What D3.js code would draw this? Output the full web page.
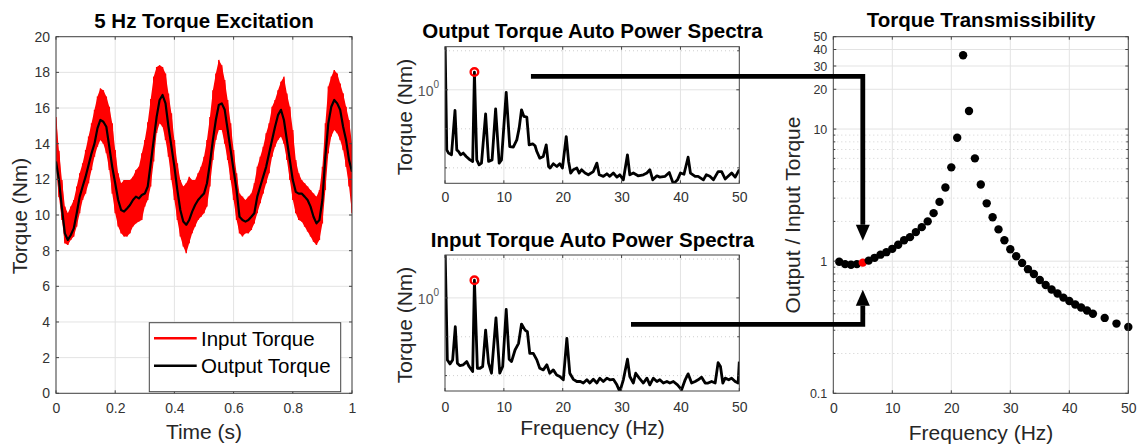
<!DOCTYPE html>
<html>
<head>
<meta charset="utf-8">
<script src="https://cdn.jsdelivr.net/npm/d3@7"></script>
<style>
  body { margin: 0; background: #fff; }
  svg { font-family: "Liberation Sans", Arial, sans-serif; }
  .tick text { fill: #333; font-size: 14px; }
  .ratio-axis .tick text { font-size: 12.5px; }
</style>
</head>
<body>
<div id="chart"></div>
<script>
// ---------- data ----------
// time trace, 0..1 s every 10 ms
var timeSec = d3.range(0, 101).map(i => i / 100);

var outputTorque = [13.0, 11.96, 10.37, 8.97, 8.6, 8.88, 9.25, 10.1, 11.03, 11.6,
  12.15, 12.8, 13.46, 14.0, 14.86, 15.33, 15.23, 14.95, 13.83, 12.7,
  11.78, 10.84, 10.28, 10.19, 10.37, 10.56, 10.84, 11.03, 10.93, 11.12,
  11.2, 11.6, 12.9, 14.2, 15.5, 16.45, 16.73, 16.26, 14.95, 13.83,
  12.71, 11.4, 10.28, 9.63, 9.45, 9.72, 10.19, 10.56, 10.84, 11.03,
  11.2, 11.78, 12.9, 14.2, 15.33, 16.17, 16.26, 15.9, 14.77, 13.64,
  12.52, 11.4, 9.9, 9.72, 9.63, 9.72, 9.9, 10.1, 11.03, 11.6,
  12.15, 12.7, 13.46, 14.2, 14.95, 15.6, 15.9, 15.33, 14.2, 13.08,
  11.96, 11.3, 11.2, 11.2, 11.03, 10.84, 10.47, 9.9, 9.53, 9.72,
  10.84, 13.27, 15.14, 16.07, 16.45, 16.26, 15.9, 14.95, 14.2, 13.08, 12.43];

// input torque is a dense high frequency signal: max / min in each 10 ms bin
var inputTorqueHigh = [15.5, 13.6, 11.96, 10.47, 10.1, 10.47, 10.84, 11.6, 12.34, 12.9,
  13.64, 14.4, 15.14, 15.9, 16.64, 17.1, 17.0, 16.64, 16.07, 15.14,
  13.64, 12.34, 11.78, 11.96, 11.96, 11.96, 12.15, 12.52, 12.7, 13.46,
  14.2, 15.2, 16.5, 17.76, 18.3, 18.4, 18.3, 17.94, 16.82, 15.7,
  14.2, 12.9, 11.96, 11.6, 11.78, 12.15, 11.96, 11.96, 12.34, 12.7,
  13.27, 14.2, 15.5, 17.0, 17.94, 18.7, 18.4, 17.57, 16.45, 15.14,
  13.64, 12.34, 11.2, 11.03, 10.84, 11.03, 11.2, 11.78, 12.7, 13.27,
  13.83, 14.58, 15.14, 16.07, 16.45, 17.0, 17.48, 17.76, 16.82, 16.07,
  14.77, 13.08, 12.34, 11.96, 11.78, 11.6, 11.4, 11.2, 11.03, 11.4,
  12.7, 15.14, 17.2, 17.76, 18.13, 17.94, 17.38, 16.82, 16.07, 15.33, 14.0];

var inputTorqueLow = [12.7, 11.0, 9.72, 8.41, 8.32, 8.6, 8.79, 9.35, 10.1, 10.84,
  11.2, 11.78, 12.52, 13.27, 13.83, 14.2, 14.0, 13.46, 12.52, 11.2,
  10.1, 9.35, 8.97, 8.79, 8.79, 8.97, 9.35, 9.53, 9.63, 9.72,
  10.47, 10.84, 11.6, 13.0, 14.6, 15.14, 14.95, 14.2, 13.27, 11.96,
  10.84, 9.72, 8.79, 8.23, 7.85, 8.41, 8.97, 9.35, 9.72, 9.9,
  10.1, 10.47, 11.6, 13.08, 14.2, 14.77, 14.77, 14.0, 13.08, 11.96,
  10.84, 9.72, 8.97, 8.79, 8.97, 8.97, 9.16, 9.53, 10.1, 10.66,
  11.2, 11.78, 12.34, 13.27, 13.83, 14.2, 14.4, 14.0, 13.08, 11.96,
  10.84, 10.1, 9.72, 9.63, 9.35, 9.07, 8.79, 8.5, 8.32, 8.6,
  9.53, 11.4, 13.46, 14.4, 14.77, 14.58, 14.2, 13.64, 12.7, 11.6, 10.1];

// output torque auto power spectrum
var outSpecFreq = [0, 0.3, 0.6, 1.1, 1.7, 2.0, 2.3, 2.65, 3.1, 3.6, 4.25, 4.7, 5.0, 5.4, 5.8, 6.2,
  6.9, 7.4, 8.0, 8.6, 9.2, 9.6, 10.4, 11.0, 11.6, 12.2, 12.6, 13.0, 13.4, 13.9, 14.3, 14.9,
  15.3, 15.6, 16.1, 16.7, 17.2, 17.6, 17.85, 18.4, 19.0, 19.5, 19.95, 20.6, 21.0, 21.35,
  21.8, 22.4, 22.8, 23.2, 23.8, 24.35, 25.2, 25.8, 26.2, 26.9, 27.5, 28.0, 28.6, 29.2,
  29.7, 30.3, 31.0, 31.4, 32.0, 32.8, 33.7, 34.3, 34.8, 35.3, 36.0, 36.5, 37.4, 38.1,
  38.8, 39.5, 40.0, 40.6, 41.3, 41.7, 42.5, 43.0, 43.9, 44.4, 45.0, 45.6, 46.4, 47.0,
  47.6, 48.1, 48.7, 49.3, 50.0];
var outSpecAmp = [2.6, 0.344, 0.325, 0.315, 0.693, 0.344, 0.334, 0.315, 0.325, 0.306, 0.288, 0.28, 1.37, 0.288, 0.264, 0.272,
  0.653, 0.28, 0.288, 0.713, 0.272, 0.288, 0.954, 0.365, 0.361, 0.411, 0.506, 0.701, 0.623, 0.616, 0.376, 0.383,
  0.37, 0.334, 0.297, 0.306, 0.376, 0.256, 0.249, 0.269, 0.256, 0.269, 0.249, 0.436, 0.28, 0.228,
  0.242, 0.249, 0.228, 0.242, 0.228, 0.221, 0.234, 0.272, 0.221, 0.215, 0.225, 0.215, 0.228, 0.212,
  0.221, 0.202, 0.315, 0.221, 0.228, 0.217, 0.221, 0.228, 0.242, 0.202, 0.217, 0.212, 0.215, 0.23,
  0.188, 0.202, 0.228, 0.223, 0.302, 0.228, 0.215, 0.215, 0.202, 0.221, 0.215, 0.202, 0.234, 0.234,
  0.205, 0.215, 0.228, 0.212, 0.242];

// input torque auto power spectrum
var inSpecFreq = [0, 0.4, 0.85, 1.3, 1.75, 2.1, 2.5, 3.1, 3.7, 4.1, 4.7, 5.0, 5.5, 5.95, 6.4, 6.9,
  7.4, 7.9, 8.66, 9.3, 9.8, 10.4, 10.9, 11.3, 11.9, 12.5, 13.0, 13.6, 14.0, 14.4, 15.0, 15.6,
  16.1, 16.7, 17.3, 17.8, 18.4, 18.97, 19.5, 20.1, 20.7, 21.2, 21.8, 22.4, 23.0, 23.5,
  24.1, 24.6, 25.2, 25.8, 26.3, 26.9, 27.5, 28.0, 28.6, 29.2, 29.7, 30.3, 31.0, 31.4,
  32.0, 32.4, 33.0, 33.7, 34.3, 34.8, 35.4, 36.0, 36.5, 37.1, 37.7, 38.2, 38.8, 39.5,
  40.2, 40.8, 41.3, 41.9, 42.5, 43.0, 43.6, 44.2, 44.7, 45.3, 45.9, 46.4, 46.8, 47.2,
  47.6, 48.2, 48.7, 49.3, 49.8, 50.0];
var inSpecAmp = [2.6, 0.331, 0.308, 0.331, 0.598, 0.312, 0.299, 0.303, 0.321, 0.294, 0.269, 1.37, 0.285, 0.285, 0.294, 0.563,
  0.312, 0.261, 0.701, 0.261, 0.294, 0.813, 0.335, 0.321, 0.395, 0.445, 0.627, 0.563, 0.547, 0.372, 0.372, 0.331,
  0.285, 0.277, 0.303, 0.261, 0.277, 0.253, 0.246, 0.232, 0.486, 0.261, 0.234, 0.225, 0.225, 0.219,
  0.232, 0.219, 0.234, 0.219, 0.239, 0.225, 0.239, 0.232, 0.234, 0.212, 0.188, 0.232, 0.335, 0.246,
  0.219, 0.261, 0.239, 0.219, 0.239, 0.212, 0.239, 0.225, 0.232, 0.219, 0.225, 0.219, 0.225, 0.212,
  0.194, 0.232, 0.258, 0.219, 0.225, 0.232, 0.243, 0.219, 0.219, 0.225, 0.219, 0.315, 0.294, 0.219,
  0.239, 0.232, 0.239, 0.225, 0.219, 0.321];

// transmissibility, output / input
var transFreq = [1, 2, 3, 4, 5, 6, 7, 8, 9, 10, 11, 12, 13, 14, 15, 16, 17, 18, 19, 20, 21, 22,
  23, 24, 25, 26, 27, 28, 29, 30, 31, 32, 33, 34, 35, 36, 37, 38, 39, 40, 41, 42, 43, 44, 46, 48, 50];
var transRatio = [0.99, 0.95, 0.94, 0.95, 0.975, 1.01, 1.06, 1.12, 1.17, 1.24, 1.33, 1.44, 1.52, 1.66, 1.81, 2.0,
  2.31, 2.81, 3.61, 5.13, 8.6, 36.2, 13.7, 6.0, 3.8, 2.74, 2.15, 1.74, 1.44, 1.23, 1.09, 0.97,
  0.87, 0.8, 0.72, 0.66, 0.61, 0.57, 0.53, 0.5, 0.47, 0.446, 0.423, 0.4, 0.372, 0.337, 0.318];

var excitationHz = 5;

// ticks
var timeTicks = [0, 0.2, 0.4, 0.6, 0.8, 1];
var torqueTicks = [0, 2, 4, 6, 8, 10, 12, 14, 16, 18, 20];
var freqTicks = [0, 10, 20, 30, 40, 50];
var specMinorGrid = [0.25, 0.5, 2];
var ratioTicks = [0.1, 1, 10, 20, 30, 40, 50];
var ratioTickLabels = ["0.1", "1", "10", "20", "30", "40", "50"];
var ratioMinor = [0.2, 0.3, 0.4, 0.5, 0.6, 0.7, 0.8, 0.9, 2, 3, 4, 5, 6, 7, 8, 9];

// ---------- layout ----------
var svgWidth = 1141;
var svgHeight = 444;
var boxColor = "#444";
var gridColor = "#e3e3e3";
var minorGridColor = "#cfcfcf";

var svg = d3.select("#chart")
  .append("svg")
  .attr("width", svgWidth)
  .attr("height", svgHeight);

// draws light grid lines across a plot
function gridLines(g, vals, scale, vertical, w, h, dotted) {
  g.append("g").selectAll("line")
    .data(vals)
    .enter()
    .append("line")
    .attr("x1", d => vertical ? scale(d) : 0)
    .attr("x2", d => vertical ? scale(d) : w)
    .attr("y1", d => vertical ? 0 : scale(d))
    .attr("y2", d => vertical ? h : scale(d))
    .attr("stroke", dotted ? minorGridColor : gridColor)
    .attr("stroke-width", 1)
    .attr("stroke-dasharray", dotted ? "1,3" : null);
}

// inward tick marks on all four sides, matlab style
function boxTicks(g, xScale, xVals, yScale, yVals, w, h, len) {
  var t = g.append("g").attr("stroke", boxColor).attr("stroke-width", 1);
  xVals.forEach(function(d) {
    t.append("line").attr("x1", xScale(d)).attr("x2", xScale(d)).attr("y1", h).attr("y2", h - len);
    t.append("line").attr("x1", xScale(d)).attr("x2", xScale(d)).attr("y1", 0).attr("y2", len);
  });
  yVals.forEach(function(d) {
    t.append("line").attr("x1", 0).attr("x2", len).attr("y1", yScale(d)).attr("y2", yScale(d));
    t.append("line").attr("x1", w).attr("x2", w - len).attr("y1", yScale(d)).attr("y2", yScale(d));
  });
}

function frame(g, w, h) {
  g.append("rect")
    .attr("width", w)
    .attr("height", h)
    .attr("fill", "none")
    .attr("stroke", boxColor)
    .attr("stroke-width", 1);
}

function title(x, y, txt) {
  svg.append("text")
    .attr("x", x)
    .attr("y", y)
    .attr("text-anchor", "middle")
    .style("font-size", "20.5px")
    .style("font-weight", "bold")
    .attr("fill", "#000")
    .text(txt);
}

function axisLabel(x, y, txt, rotate) {
  svg.append("text")
    .attr("transform", rotate ? `translate(${x},${y}) rotate(-90)` : `translate(${x},${y})`)
    .attr("text-anchor", "middle")
    .style("font-size", "21px")
    .attr("fill", "#262626")
    .text(txt);
}

// ---------- left: time trace ----------
var left = { x: 56, y: 36.7, w: 296, h: 356.6 };
var leftGroup = svg.append("g").attr("transform", `translate(${left.x}, ${left.y})`);

var xTime = d3.scaleLinear().domain([0, 1]).range([0, left.w]);
var yTorque = d3.scaleLinear().domain([0, 20]).range([left.h, 0]);

gridLines(leftGroup, timeTicks, xTime, true, left.w, left.h, false);
gridLines(leftGroup, torqueTicks, yTorque, false, left.w, left.h, false);

leftGroup.append("clipPath").attr("id", "clipLeft")
  .append("rect").attr("width", left.w).attr("height", left.h);

var traceGroup = leftGroup.append("g").attr("clip-path", "url(#clipLeft)");

var inputBand = d3.area()
  .x((d, i) => xTime(timeSec[i]))
  .y0((d, i) => yTorque(inputTorqueLow[i]))
  .y1((d, i) => yTorque(inputTorqueHigh[i]));

traceGroup.append("path")
  .datum(timeSec)
  .attr("d", inputBand)
  .attr("fill", "#ff0000");

// zig-zag through the min/max pairs gives the ragged edge of the dense signal
var zig = [];
timeSec.forEach(function(t, i) {
  zig.push([t, inputTorqueLow[i]]);
  zig.push([t, inputTorqueHigh[i]]);
});
traceGroup.append("path")
  .datum(zig)
  .attr("d", d3.line().x(d => xTime(d[0])).y(d => yTorque(d[1])))
  .attr("fill", "none")
  .attr("stroke", "#ff0000")
  .attr("stroke-width", 1.4);

traceGroup.append("path")
  .datum(outputTorque)
  .attr("d", d3.line().x((d, i) => xTime(timeSec[i])).y(d => yTorque(d)))
  .attr("fill", "none")
  .attr("stroke", "#000")
  .attr("stroke-width", 2.2)
  .attr("stroke-linejoin", "round");

boxTicks(leftGroup, xTime, timeTicks, yTorque, torqueTicks, left.w, left.h, 3);
frame(leftGroup, left.w, left.h);

leftGroup.append("g")
  .attr("transform", `translate(0, ${left.h})`)
  .call(d3.axisBottom(xTime).tickValues(timeTicks).tickFormat(d3.format("")).tickSize(0).tickPadding(10))
  .call(g => g.select(".domain").remove());

leftGroup.append("g")
  .call(d3.axisLeft(yTorque).tickValues(torqueTicks).tickSize(0).tickPadding(6))
  .call(g => g.select(".domain").remove());

// legend
var legend = leftGroup.append("g").attr("transform", "translate(93.3, 286)");
legend.append("rect")
  .attr("width", 191.4)
  .attr("height", 69)
  .attr("fill", "#fff")
  .attr("stroke", boxColor)
  .attr("stroke-width", 1);
var legendItems = [["Input Torque", "#ff0000"], ["Output Torque", "#000"]];
legendItems.forEach(function(item, i) {
  var ly = 15.6 + i * 27.4;
  legend.append("line")
    .attr("x1", 4.7).attr("x2", 47.4)
    .attr("y1", ly).attr("y2", ly)
    .attr("stroke", item[1])
    .attr("stroke-width", 2.5);
  legend.append("text")
    .attr("x", 51.7)
    .attr("y", ly + 7.3)
    .style("font-size", "20.5px")
    .attr("fill", "#000")
    .text(item[0]);
});

title(204, 28.3, "5 Hz Torque Excitation");
axisLabel(27, 216, "Torque (Nm)", true);
axisLabel(204, 439, "Time (s)", false);

// ---------- middle: auto power spectra ----------
function spectrumPanel(p, freq, amp, id) {
  var g = svg.append("g").attr("transform", `translate(${p.x}, ${p.y})`);
  var x = d3.scaleLinear().domain([0, 50]).range([0, p.w]);
  var y = d3.scaleLog().domain([0.19, 2.15]).range([p.h, 0]);

  gridLines(g, [10, 20, 30, 40], x, true, p.w, p.h, false);
  gridLines(g, specMinorGrid, y, false, p.w, p.h, true);
  gridLines(g, [1], y, false, p.w, p.h, false);

  g.append("clipPath").attr("id", id)
    .append("rect").attr("width", p.w).attr("height", p.h);

  g.append("g").attr("clip-path", `url(#${id})`)
    .append("path")
    .datum(freq)
    .attr("d", d3.line().x(d => x(d)).y((d, i) => y(amp[i])))
    .attr("fill", "none")
    .attr("stroke", "#000")
    .attr("stroke-width", 2.8)
    .attr("stroke-linejoin", "round");

  // mark the excitation frequency
  var k = freq.indexOf(excitationHz);
  g.append("circle")
    .attr("cx", x(freq[k]))
    .attr("cy", y(amp[k]))
    .attr("r", 3.8)
    .attr("fill", "none")
    .attr("stroke", "#ff0000")
    .attr("stroke-width", 2.4);

  boxTicks(g, x, freqTicks, y, [1], p.w, p.h, 3);
  boxTicks(g, x, [], y, specMinorGrid, p.w, p.h, 2);
  frame(g, p.w, p.h);

  g.append("g")
    .attr("transform", `translate(0, ${p.h})`)
    .call(d3.axisBottom(x).tickValues(freqTicks).tickSize(0).tickPadding(p.pad))
    .call(a => a.select(".domain").remove());

  // 10^0 label
  var lab = g.append("text")
    .attr("x", -6)
    .attr("y", y(1) + 6.5)
    .attr("text-anchor", "end")
    .attr("fill", "#555")
    .style("font-size", "14px");
  lab.append("tspan").text("10");
  lab.append("tspan").attr("dy", -8).style("font-size", "10px").text("0");

  return { g: g, x: x, y: y };
}

var midTop = spectrumPanel({ x: 445, y: 46.7, w: 294.3, h: 136.6, pad: 8.5 }, outSpecFreq, outSpecAmp, "clipOut");
var midBottom = spectrumPanel({ x: 445, y: 255, w: 294.3, h: 136, pad: 10.8 }, inSpecFreq, inSpecAmp, "clipIn");

title(592.5, 38.3, "Output Torque Auto Power Spectra");
title(592.5, 246.7, "Input Torque Auto Power Spectra");
axisLabel(412, 117, "Torque (Nm)", true);
axisLabel(412, 325, "Torque (Nm)", true);
axisLabel(592.5, 435, "Frequency (Hz)", false);

// ---------- right: transmissibility ----------
var right = { x: 833.3, y: 36.7, w: 295, h: 356.6 };
var rightGroup = svg.append("g").attr("transform", `translate(${right.x}, ${right.y})`);

var xTr = d3.scaleLinear().domain([0, 50]).range([0, right.w]);
var yTr = d3.scaleLog().domain([0.1, 50]).range([right.h, 0]);

gridLines(rightGroup, [10, 20, 30, 40], xTr, true, right.w, right.h, false);
gridLines(rightGroup, ratioMinor, yTr, false, right.w, right.h, true);
gridLines(rightGroup, [1, 10, 20, 30, 40], yTr, false, right.w, right.h, false);

rightGroup.selectAll(".dot")
  .data(transFreq)
  .enter()
  .append("circle")
  .attr("cx", d => xTr(d))
  .attr("cy", (d, i) => yTr(transRatio[i]))
  .attr("r", 4.2)
  .attr("fill", d => d === excitationHz ? "#ff0000" : "#000");

boxTicks(rightGroup, xTr, freqTicks, yTr, ratioTicks, right.w, right.h, 3);
boxTicks(rightGroup, xTr, [], yTr, ratioMinor, right.w, right.h, 2);
frame(rightGroup, right.w, right.h);

rightGroup.append("g")
  .attr("transform", `translate(0, ${right.h})`)
  .call(d3.axisBottom(xTr).tickValues(freqTicks).tickSize(0).tickPadding(9.4))
  .call(g => g.select(".domain").remove());

rightGroup.append("g")
  .attr("class", "ratio-axis")
  .call(d3.axisLeft(yTr).tickValues(ratioTicks).tickFormat((d, i) => ratioTickLabels[i]).tickSize(0).tickPadding(6))
  .call(g => g.select(".domain").remove());

title(981, 27.3, "Torque Transmissibility");
axisLabel(800, 215, "Output / Input Torque", true);
axisLabel(981, 440, "Frequency (Hz)", false);

// ---------- arrows from the 5 Hz peaks to the 5 Hz transmissibility point ----------
var targetX = right.x + xTr(excitationHz);
var targetY = right.y + yTr(transRatio[transFreq.indexOf(excitationHz)]);
var headLen = 16, headHalf = 7;

function arrow(startX, startY, tipY) {
  var dir = tipY > startY ? 1 : -1;
  var baseY = tipY - dir * headLen;
  svg.append("path")
    .attr("d", `M${startX},${startY} H${targetX} V${baseY}`)
    .attr("fill", "none")
    .attr("stroke", "#000")
    .attr("stroke-width", 4.8);
  svg.append("path")
    .attr("d", `M${targetX - headHalf},${baseY} L${targetX + headHalf},${baseY} L${targetX},${tipY} Z`)
    .attr("fill", "#000");
}

arrow(445 + midTop.x(14.6), 46.7 + midTop.y(1.27), targetY - 22);
arrow(445 + midBottom.x(31.6), 255 + midBottom.y(0.623), targetY + 27);
</script>
</body>
</html>
